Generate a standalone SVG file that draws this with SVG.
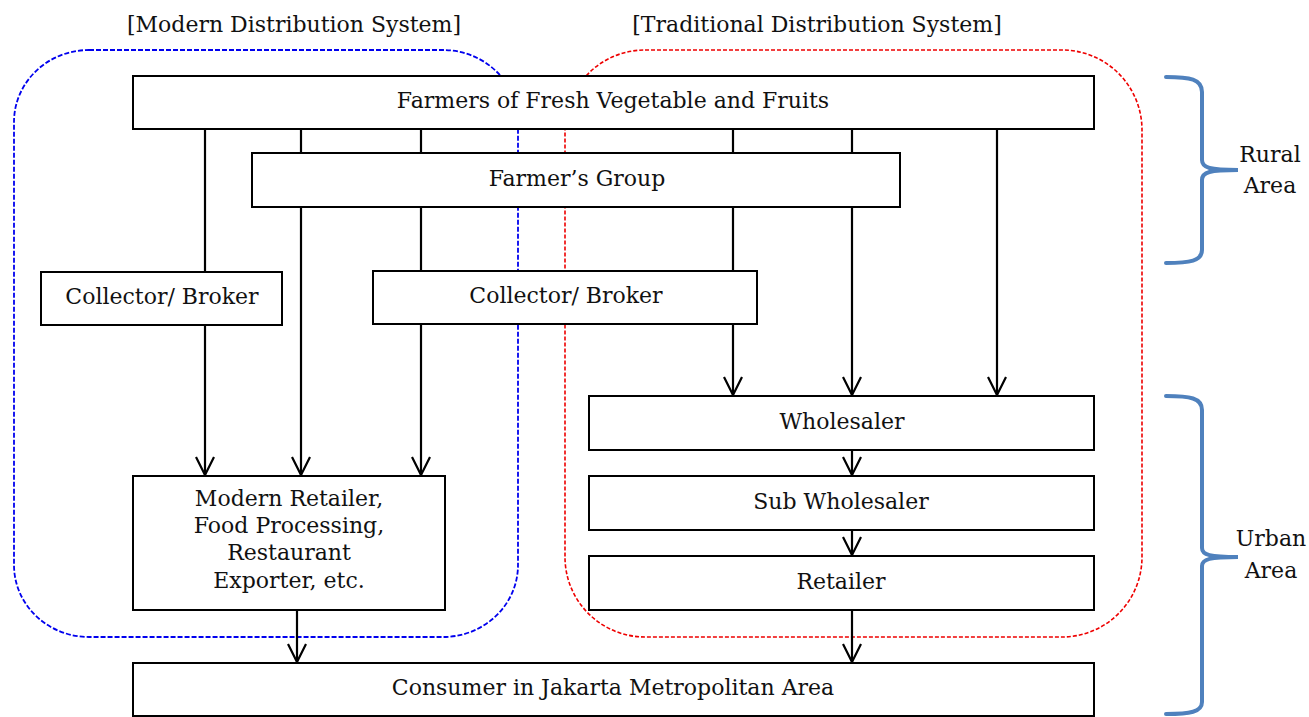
<svg xmlns="http://www.w3.org/2000/svg" width="1309" height="717" viewBox="0 0 1309 717">
<style>
text{font-family:"DejaVu Serif","Liberation Serif",serif;font-size:22px;fill:#111;text-anchor:middle}
.box{fill:#fff;stroke:#000;stroke-width:2}
.ln{stroke:#000;stroke-width:2.2;fill:none}
.br{stroke:#4F81BD;stroke-width:4;fill:none;stroke-linecap:round}
</style>
<defs>
<marker id="ah" viewBox="0 0 20 20" refX="19" refY="10" markerWidth="20" markerHeight="20" markerUnits="userSpaceOnUse" orient="auto">
<path d="M1,1 L19,10 L1,19" fill="none" stroke="#000" stroke-width="2.2"/>
</marker>
</defs>
<g id="regions">
<rect x="14" y="50" width="504" height="587" rx="75" ry="72" fill="none" stroke="#0000EE" stroke-width="1.8" stroke-dasharray="5 2"/>
<rect x="565" y="50" width="577" height="587" rx="80" ry="80" fill="none" stroke="#EE0000" stroke-width="1.6" stroke-dasharray="4 2"/>
</g>
<g id="connectors">
<line class="ln" x1="205" y1="129" x2="205" y2="272"/>
<line class="ln" x1="205" y1="325" x2="205" y2="475" marker-end="url(#ah)"/>
<line class="ln" x1="301" y1="129" x2="301" y2="475" marker-end="url(#ah)"/>
<line class="ln" x1="421" y1="129" x2="421" y2="475" marker-end="url(#ah)"/>
<line class="ln" x1="733" y1="129" x2="733" y2="395" marker-end="url(#ah)"/>
<line class="ln" x1="852" y1="129" x2="852" y2="395" marker-end="url(#ah)"/>
<line class="ln" x1="997" y1="129" x2="997" y2="395" marker-end="url(#ah)"/>
<line class="ln" x1="852" y1="450" x2="852" y2="475" marker-end="url(#ah)"/>
<line class="ln" x1="852" y1="530" x2="852" y2="555" marker-end="url(#ah)"/>
<line class="ln" x1="852" y1="610" x2="852" y2="662" marker-end="url(#ah)"/>
<line class="ln" x1="297" y1="610" x2="297" y2="662" marker-end="url(#ah)"/>
</g>
<g id="farmers"><rect class="box" x="133" y="76" width="961" height="53"/><text x="613" y="108">Farmers of Fresh Vegetable and Fruits</text></g>
<g id="farmers-group"><rect class="box" x="252" y="153" width="648" height="54"/><text x="577" y="186">Farmer’s Group</text></g>
<g id="collector-left"><rect class="box" x="41" y="272" width="241" height="53"/><text x="162" y="304">Collector/ Broker</text></g>
<g id="collector-right"><rect class="box" x="373" y="271" width="384" height="53"/><text x="566" y="303">Collector/ Broker</text></g>
<g id="modern-retailer"><rect class="box" x="133" y="476" width="312" height="134"/>
<text x="289" y="506">Modern Retailer,</text><text x="289" y="533">Food Processing,</text><text x="289" y="560">Restaurant</text><text x="289" y="588">Exporter, etc.</text></g>
<g id="wholesaler"><rect class="box" x="589" y="396" width="505" height="54"/><text x="842" y="429">Wholesaler</text></g>
<g id="sub-wholesaler"><rect class="box" x="589" y="476" width="505" height="54"/><text x="841" y="509">Sub Wholesaler</text></g>
<g id="retailer"><rect class="box" x="589" y="556" width="505" height="54"/><text x="841" y="589">Retailer</text></g>
<g id="consumer"><rect class="box" x="133" y="663" width="961" height="53"/><text x="613" y="695">Consumer in Jakarta Metropolitan Area</text></g>
<g id="titles">
<text x="294" y="32">[Modern Distribution System]</text>
<text x="817" y="32">[Traditional Distribution System]</text>
</g>
<g id="rural">
<path class="br" d="M1166,77 C1190,77 1202,79 1202,92 L1202,160 C1202,168 1210,170 1238,170 C1210,170 1202,172 1202,180 L1202,250 C1202,261 1190,263 1166,263"/>
<text x="1270" y="162">Rural</text><text x="1270" y="193">Area</text>
</g>
<g id="urban">
<path class="br" d="M1166,396 C1190,396 1202,398 1202,410 L1202,548 C1202,555 1210,557 1238,557 C1210,557 1202,559 1202,566 L1202,702 C1202,712 1190,714 1166,714"/>
<text x="1271" y="546">Urban</text><text x="1271" y="578">Area</text>
</g>
</svg>
